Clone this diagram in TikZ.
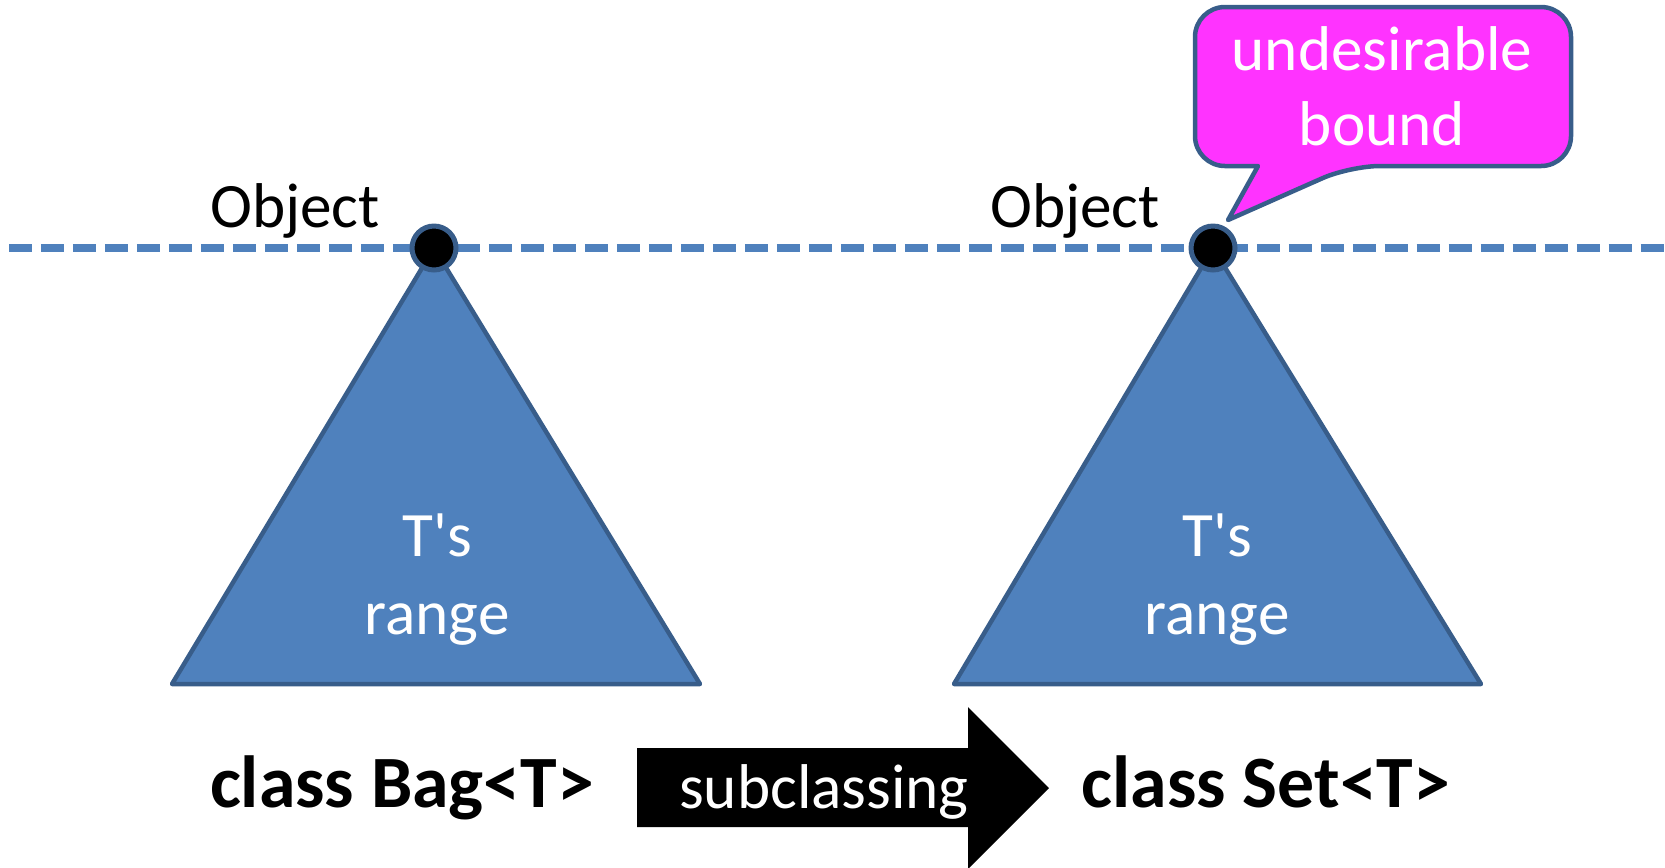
\documentclass[tikz,border=0pt]{standalone}
\usepackage{fontspec}
\setmainfont{Carlito}
\definecolor{rangefill}{RGB}{79,129,189}
\definecolor{rangeline}{RGB}{56,93,138}
\definecolor{boundpink}{RGB}{255,51,255}

\begin{document}
\begin{tikzpicture}[x=0.02cm,y=-0.02cm,
  word/.style={inner sep=0pt,anchor=base,font=\fontsize{36}{43}\selectfont},
  classname/.style={inner sep=0pt,anchor=base,font=\fontsize{42}{50}\selectfont\bfseries},
  rangetri/.style={fill=rangefill,draw=rangeline,line width=0.09cm,line join=round},
  topdot/.style={circle,fill=black,draw=rangeline,line width=0.1cm,minimum size=0.88cm,inner sep=0pt}]
\useasboundingbox (0,0) rectangle (1665,867);
% the Object level
\draw[rangefill,line width=0.16cm,dash pattern=on 0.46cm off 0.18cm] (9,248) -- (1665,248);
% ranges of T
\draw[rangetri] (434,248) -- (700,684) -- (172,684) -- cycle;
\draw[rangetri] (1213,248) -- (1481,684) -- (954,684) -- cycle;
\node[topdot] (objBag) at (434,248) {};
\node[topdot] (objSet) at (1213,248) {};
\node[word] (objBagText) at (295,227) {Object};
\node[word] (objSetText) at (1075,227) {Object};
\node[word,text=white] (bagRange1) at (437,556) {T\textquotesingle s};
\node[word,text=white] (bagRange2) at (437,634) {range};
\node[word,text=white] (setRange1) at (1217,556) {T\textquotesingle s};
\node[word,text=white] (setRange2) at (1217,634) {range};
% callout
\draw[fill=boundpink,draw=rangeline,line width=0.09cm,line join=round]
  (1350,166) -- (1228,220) -- (1258,166)
  [rounded corners=0.6cm] -- (1195,166) -- (1195,7) -- (1571,7) -- (1571,166) -- cycle;
\node[word,text=white] (bound1) at (1382,70) {undesirable};
\node[word,text=white] (bound2) at (1382,145) {bound};
% class names and the subclassing arrow
\node[classname] (bag) at (402,807) {class Bag<T>};
\node[classname] (set) at (1266,807) {class Set<T>};
\fill (637,748) -- (968,748) -- (968,707) -- (1049,788) -- (968,869) -- (968,827) -- (637,827) -- cycle;
\node[word,text=white] (sub) at (824,808) {subclassing};
\end{tikzpicture}
\end{document}
